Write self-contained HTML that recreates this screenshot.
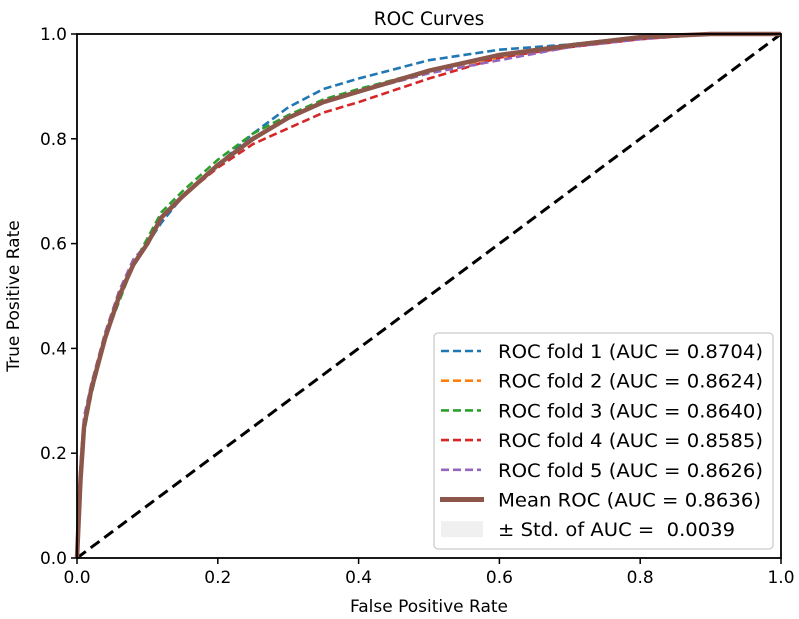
<!DOCTYPE html>
<html><head><meta charset="utf-8"><style>
body{margin:0;background:#fff;}
svg{display:block;font-family:"DejaVu Sans","Liberation Sans",sans-serif;}
text{white-space:pre;}
</style></head><body>
<svg id="chart" width="799" height="619"></svg>
<script>
const fpr   = [0,0.005,0.01,0.02,0.04,0.06,0.08,0.10,0.12,0.15,0.20,0.25,0.30,0.35,0.40,0.50,0.60,0.70,0.80,0.90,1.0];
const fold1 = [0,0.16,0.26,0.32,0.42,0.50,0.56,0.60,0.64,0.69,0.75,0.81,0.86,0.895,0.915,0.95,0.97,0.98,0.995,1,1];
const fold2 = [0,0.15,0.25,0.33,0.43,0.51,0.56,0.60,0.65,0.69,0.75,0.80,0.84,0.87,0.89,0.93,0.955,0.975,0.995,1,1];
const fold3 = [0,0.14,0.24,0.31,0.42,0.49,0.56,0.61,0.66,0.70,0.76,0.81,0.845,0.875,0.895,0.93,0.96,0.98,0.995,1,1];
const fold4 = [0,0.15,0.25,0.32,0.42,0.50,0.56,0.60,0.65,0.69,0.745,0.79,0.82,0.85,0.87,0.915,0.955,0.975,0.99,1,1];
const fold5 = [0,0.18,0.27,0.33,0.43,0.51,0.57,0.60,0.65,0.69,0.75,0.80,0.84,0.87,0.89,0.925,0.95,0.975,0.99,1,1];
const meanT = [0,0.15,0.25,0.32,0.42,0.50,0.56,0.60,0.65,0.69,0.75,0.80,0.84,0.87,0.89,0.93,0.96,0.978,0.994,1,1];
const ticks = [0,0.2,0.4,0.6,0.8,1.0];
const labels = ["ROC fold 1 (AUC = 0.8704)","ROC fold 2 (AUC = 0.8624)","ROC fold 3 (AUC = 0.8640)","ROC fold 4 (AUC = 0.8585)","ROC fold 5 (AUC = 0.8626)","Mean ROC (AUC = 0.8636)","± Std. of AUC =  0.0039"];
const labelW = [265,265,265,265,265,263,237];
const colors = ["#1f77b4","#ff7f0e","#2ca02c","#d62728","#9467bd","#8c564b"];

const L=77,R=781,T=34,B=558;
const sx=v=>L+v*(R-L), sy=v=>B-v*(B-T);
const svg=document.getElementById('chart');
const NS="http://www.w3.org/2000/svg";
function mk(tag,at,parent){const e=document.createElementNS(NS,tag);for(const k in at)e.setAttribute(k,at[k]);(parent||svg).appendChild(e);return e;}

let d=mk('line',{x1:sx(0),y1:sy(0),x2:sx(1),y2:sy(1),stroke:'#000','stroke-width':3,'stroke-dasharray':'11,6'});



const series=[fold1,fold2,fold3,fold4,fold5];
series.forEach((s,i)=>{
  const p=mk('polyline',{points:fpr.map((x,j)=>sx(x)+','+sy(s[j])).join(' '),fill:'none',stroke:colors[i],'stroke-width':2.6,'stroke-dasharray':'8,4'});
  
  
});
const m=mk('polyline',{points:fpr.map((x,j)=>sx(x)+','+sy(meanT[j])).join(' '),fill:'none',stroke:colors[5],'stroke-width':4.5});



const fr=mk('rect',{x:L,y:T,width:R-L,height:B-T,fill:'none',stroke:'#000','stroke-width':1.8});



ticks.forEach(t=>{
  mk('line',{x1:sx(t),y1:B,x2:sx(t),y2:B+6,stroke:'#000','stroke-width':1.5});
  const xl=mk('text',{x:sx(t),y:B+25,'text-anchor':'middle','font-size':17});
  xl.textContent=t.toFixed(1);
  
  
  mk('line',{x1:L-6,y1:sy(t),x2:L,y2:sy(t),stroke:'#000','stroke-width':1.5});
  const yl=mk('text',{x:L-10,y:sy(t)+6,'text-anchor':'end','font-size':17});
  yl.textContent=t.toFixed(1);
  
  
});

const title=mk('text',{x:(L+R)/2,y:25,'text-anchor':'middle','font-size':18.5});
title.textContent='ROC Curves';


const xt=mk('text',{x:(L+R)/2,y:612,'text-anchor':'middle','font-size':17});
xt.textContent='False Positive Rate';


const yt=mk('text',{x:19,y:(T+B)/2,'text-anchor':'middle','font-size':17,transform:'rotate(-90 19 '+((T+B)/2)+')'});
yt.textContent='True Positive Rate';



const lg=mk('g',{});


mk('rect',{x:434,y:333,width:339,height:216,rx:4,fill:'#fff','fill-opacity':0.85,stroke:'#ccc','stroke-width':1.3},lg);
labels.forEach((lab,i)=>{
  const y=351+i*29.7;
  if(i<5) mk('line',{x1:441,y1:y,x2:481,y2:y,stroke:colors[i],'stroke-width':2.6,'stroke-dasharray':'8,4'},lg);
  else if(i===5) mk('line',{x1:440,y1:y,x2:484,y2:y,stroke:colors[5],'stroke-width':5},lg);
  else mk('rect',{x:441,y:y-8,width:42,height:16,fill:'#f0f0f0'},lg);
  const tx=mk('text',{x:498,y:y+7,'font-size':18.5,textLength:labelW[i],lengthAdjust:'spacingAndGlyphs'},lg);
  tx.textContent=lab;
  
  
});
</script>
</body></html>
